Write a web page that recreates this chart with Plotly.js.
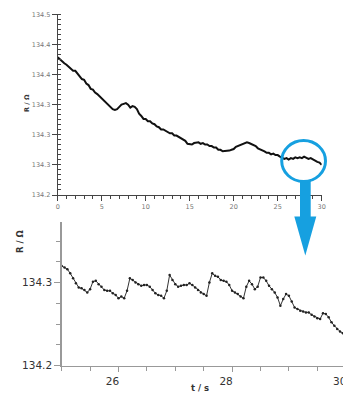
<!DOCTYPE html>
<html>
<head>
<meta charset="utf-8">
<script src="https://cdn.plot.ly/plotly-3.0.1.min.js"></script>
<style>
html,body{margin:0;padding:0;overflow:hidden;background:#fff;width:343px;height:398px;}
#chart{width:355px;height:398px;}
</style>
</head>
<body>
<div id="chart"></div>
<script>
// ---- Top panel: full 0-30 s record ----
const topTime = [
 0.00,0.25,0.50,0.75,1.00,1.25,1.50,1.75,2.00,2.25,2.50,2.75,3.00,3.25,3.50,3.75,4.00,4.25,4.50,4.75,
 5.00,5.25,5.50,5.75,6.00,6.25,6.50,6.75,7.00,7.25,7.50,7.75,8.00,8.25,8.50,8.75,9.00,9.25,9.50,9.75,
 10.00,10.25,10.50,10.75,11.00,11.25,11.50,11.75,12.00,12.25,12.50,12.75,13.00,13.25,13.50,13.75,14.00,14.25,14.50,14.75,
 15.00,15.25,15.50,15.75,16.00,16.25,16.50,16.75,17.00,17.25,17.50,17.75,18.00,18.25,18.50,18.75,19.00,19.25,19.50,19.75,
 20.00,20.25,20.50,20.75,21.00,21.25,21.50,21.75,22.00,22.25,22.50,22.75,23.00,23.25,23.50,23.75,24.00,24.25,24.50,24.75,
 25.00,25.25,25.50,25.75,26.00,26.25,26.50,26.75,27.00,27.25,27.50,27.75,28.00,28.25,28.50,28.75,29.00,29.25,29.50,29.75,30.00
];
const topR = [
 134.403,134.400,134.398,134.395,134.393,134.390,134.388,134.385,134.385,134.381,134.378,134.374,134.373,134.368,134.366,134.361,134.360,134.356,134.354,134.351,
 134.349,134.345,134.343,134.339,134.337,134.334,134.333,134.334,134.337,134.340,134.341,134.342,134.340,134.336,134.338,134.337,134.334,134.328,134.325,134.321,
 134.321,134.318,134.318,134.315,134.314,134.311,134.310,134.307,134.307,134.305,134.304,134.302,134.302,134.299,134.299,134.297,134.296,134.293,134.292,134.288,
 134.287,134.287,134.289,134.289,134.290,134.288,134.289,134.287,134.287,134.285,134.285,134.283,134.283,134.280,134.280,134.278,134.278,134.279,134.279,134.280,
 134.281,134.284,134.285,134.286,134.287,134.288,134.290,134.289,134.288,134.286,134.285,134.282,134.281,134.279,134.278,134.276,134.276,134.274,134.275,134.273,
 134.273,134.271,134.270,134.268,134.269,134.267,134.269,134.268,134.270,134.269,134.270,134.269,134.271,134.270,134.268,134.269,134.267,134.266,134.264,134.263,134.260
];
const topTicks = [134.22,134.26,134.30,134.34,134.38,134.42,134.46];
const topXTicks = [0,5,10,15,20,25,30];

// ---- Bottom panel: zoom on 25-30 s ----
const zoomTime = [
 25.00,25.05,25.10,25.15,25.20,25.25,25.30,25.35,25.40,25.45,25.50,25.55,25.60,25.65,25.70,25.75,25.80,25.85,25.90,25.95,
 26.00,26.05,26.10,26.15,26.20,26.25,26.30,26.35,26.40,26.45,26.50,26.55,26.60,26.65,26.70,26.75,26.80,26.85,26.90,26.95,
 27.00,27.05,27.10,27.15,27.20,27.25,27.30,27.35,27.40,27.45,27.50,27.55,27.60,27.65,27.70,27.75,27.80,27.85,27.90,27.95,
 28.00,28.05,28.10,28.15,28.20,28.25,28.30,28.35,28.40,28.45,28.50,28.55,28.60,28.65,28.70,28.75,28.80,28.85,28.90,28.95,
 29.00,29.05,29.10,29.15,29.20,29.25,29.30,29.35,29.40,29.45,29.50,29.55,29.60,29.65,29.70,29.75,29.80,29.85,29.90,29.95,30.00
];
const zoomR = [
 134.320,134.318,134.316,134.311,134.305,134.299,134.294,134.293,134.291,134.288,134.292,134.301,134.302,134.298,134.295,134.291,134.290,134.290,134.287,134.285,
 134.281,134.283,134.281,134.290,134.305,134.303,134.300,134.298,134.296,134.297,134.297,134.295,134.291,134.287,134.285,134.284,134.281,134.290,134.309,134.303,
 134.298,134.295,134.296,134.297,134.297,134.299,134.297,134.294,134.291,134.288,134.286,134.284,134.300,134.311,134.308,134.307,134.303,134.302,134.301,134.297,
 134.290,134.288,134.286,134.283,134.281,134.295,134.302,134.298,134.292,134.295,134.306,134.306,134.302,134.296,134.292,134.288,134.282,134.272,134.280,134.286,
 134.284,134.277,134.270,134.268,134.266,134.265,134.264,134.264,134.261,134.259,134.257,134.256,134.263,134.262,134.258,134.252,134.248,134.244,134.241,134.239,134.236
];
const zoomYTicks = [134.2,134.3];
const zoomXTicks = [26,28,30];

const W = 355, H = 398;
const px = x => x / W;
const py = y => 1 - y / H;
const BLUE = '#16a0e0';

const traces = [
  {x: topTime, y: topR, type: 'scatter', mode: 'lines', xaxis: 'x', yaxis: 'y',
   line: {color: '#111', width: 2}, hoverinfo: 'skip'},
  {x: zoomTime, y: zoomR, type: 'scatter', mode: 'lines+markers', xaxis: 'x2', yaxis: 'y2',
   line: {color: '#333', width: 1}, marker: {color: '#222', size: 2.5}, hoverinfo: 'skip'}
];

const layout = {
  width: W, height: H,
  margin: {l: 0, r: 0, t: 0, b: 0},
  paper_bgcolor: '#fff', plot_bgcolor: '#fff',
  showlegend: false,
  font: {family: 'DejaVu Sans, Verdana, sans-serif', color: '#333'},
  xaxis: {
    domain: [px(57.7), px(321.7)], range: [0, 30], anchor: 'y',
    showgrid: false, zeroline: false, showline: true, linecolor: '#444', linewidth: 1,
    tickmode: 'array', tickvals: topXTicks, ticks: 'outside', ticklen: 5, tickcolor: '#444',
    tickfont: {size: 6.5, color: '#777'},
    minor: {dtick: 1, tick0: 0, ticks: 'outside', ticklen: 3, tickcolor: '#444', showgrid: false}
  },
  yaxis: {
    domain: [py(195), py(14.3)], range: [134.22, 134.46], anchor: 'x',
    showgrid: false, zeroline: false, showline: true, linecolor: '#444', linewidth: 1,
    tickmode: 'array', tickvals: topTicks, tickformat: '.1f', ticks: 'outside', ticklen: 5, tickcolor: '#444',
    tickfont: {size: 6.5, color: '#777'},
    minor: {dtick: 0.0066667, tick0: 134.22, ticks: 'inside', ticklen: 3, tickcolor: '#444', showgrid: false}
  },
  xaxis2: {
    domain: [px(61.7), 1], range: [25, 25 + (W - 61.7) / 56.8], anchor: 'y2',
    showgrid: false, zeroline: false, showline: true, linecolor: '#999', linewidth: 1.5,
    tickmode: 'array', tickvals: zoomXTicks, ticks: 'outside', ticklen: 5, tickcolor: '#999',
    ticklabelshift: -6,
    tickfont: {size: 10.5, color: '#333'},
    minor: {dtick: 0.5, tick0: 25, ticks: 'outside', ticklen: 4, tickcolor: '#999', showgrid: false}
  },
  yaxis2: {
    domain: [py(365.5), py(222)], range: [134.2, 134.2 + (365.5 - 222) / 830], anchor: 'x2',
    showgrid: false, zeroline: false, showline: true, linecolor: '#999', linewidth: 1.5,
    tickmode: 'array', tickvals: zoomYTicks, tickformat: '.1f', ticks: 'outside', ticklen: 6, tickcolor: '#999',
    tickfont: {size: 10.5, color: '#333'},
    minor: {dtick: 0.025, tick0: 134.2, ticks: 'outside', ticklen: 4, tickcolor: '#999', showgrid: false}
  },
  annotations: [
    {text: '<b>R / Ω</b>', xref: 'paper', yref: 'paper', x: px(27), y: py(103), textangle: -90,
     showarrow: false, font: {size: 6.5, color: '#333'}, xanchor: 'center', yanchor: 'middle'},
    {text: '<b>R / Ω</b>', xref: 'paper', yref: 'paper', x: px(20), y: py(242), textangle: -90,
     showarrow: false, font: {size: 8.5, color: '#333'}, xanchor: 'center', yanchor: 'middle'},
    {text: '<b>t / s</b>', xref: 'paper', yref: 'paper', x: px(200), y: py(388),
     showarrow: false, font: {size: 8.5, color: '#333'}, xanchor: 'center', yanchor: 'middle'}
  ],
  shapes: [
    {type: 'rect', xref: 'paper', yref: 'paper', x0: px(300), x1: px(310.7), y0: py(218), y1: py(181),
     fillcolor: BLUE, line: {width: 0}},
    {type: 'path', xref: 'paper', yref: 'paper',
     path: 'M ' + px(294.3) + ' ' + py(216.5) + ' L ' + px(316.3) + ' ' + py(216.5) + ' L ' + px(305.3) + ' ' + py(255.5) + ' Z',
     fillcolor: BLUE, line: {width: 0}},
    {type: 'circle', xref: 'paper', yref: 'paper', x0: px(281.7), x1: px(325.5), y0: py(181.5), y1: py(140.5),
     line: {color: BLUE, width: 3}}
  ]
};

Plotly.newPlot('chart', traces, layout, {staticPlot: true, displayModeBar: false});
</script>
</body>
</html>
